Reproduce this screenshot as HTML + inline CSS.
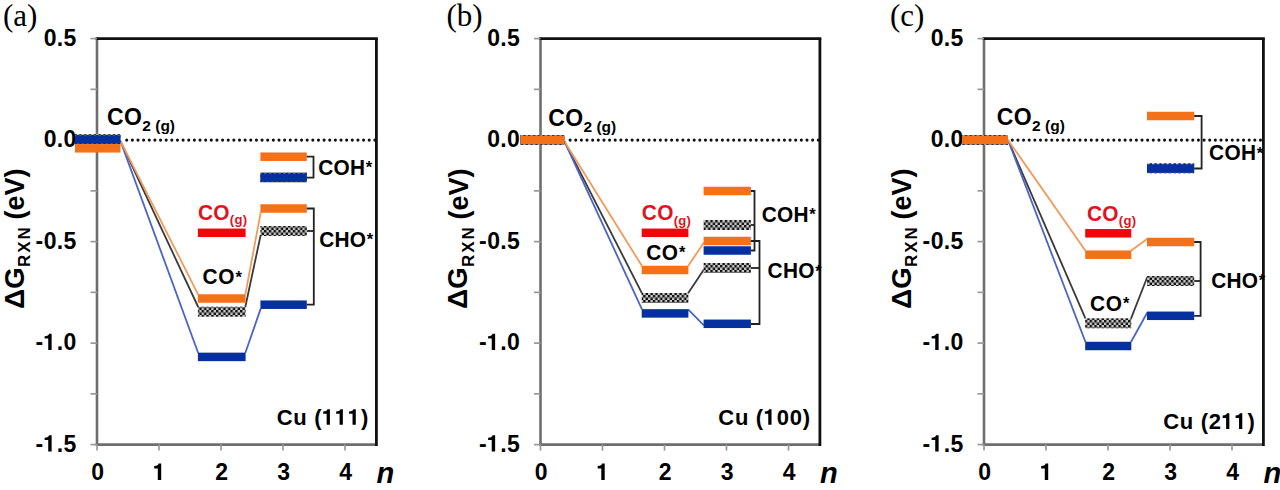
<!DOCTYPE html>
<html><head><meta charset="utf-8"><title>Free energy diagrams</title>
<style>
html,body{margin:0;padding:0;background:#fff;width:1280px;height:490px;overflow:hidden;}
svg{display:block;font-family:"Liberation Sans", sans-serif;}
</style></head><body>
<svg width="1280" height="490" viewBox="0 0 1280 490">
<defs><pattern id="chk" x="0" y="0" width="4.8" height="5" patternUnits="userSpaceOnUse"><rect width="4.8" height="5" fill="#c8c8c8"/><rect x="0" y="0" width="2.4" height="2.5" fill="#111"/><rect x="2.4" y="2.5" width="2.4" height="2.5" fill="#111"/></pattern></defs>
<text x="3.00" y="26.00" font-family="Liberation Serif" font-size="31" font-weight="normal" fill="#000" text-anchor="start" >(a)</text>
<line x1="97.00" y1="37.60" x2="97.00" y2="445.90" stroke="#6e6e6e" stroke-width="2.6"/>
<line x1="95.70" y1="444.60" x2="376.00" y2="444.60" stroke="#6e6e6e" stroke-width="2.6"/>
<line x1="95.70" y1="38.60" x2="377.80" y2="38.60" stroke="#111" stroke-width="2.8"/>
<line x1="376.40" y1="38.60" x2="376.40" y2="445.90" stroke="#111" stroke-width="2.8"/>
<line x1="90.50" y1="38.60" x2="97.00" y2="38.60" stroke="#999" stroke-width="1.7"/>
<line x1="90.50" y1="89.35" x2="97.00" y2="89.35" stroke="#999" stroke-width="1.7"/>
<line x1="90.50" y1="140.10" x2="97.00" y2="140.10" stroke="#999" stroke-width="1.7"/>
<line x1="90.50" y1="190.85" x2="97.00" y2="190.85" stroke="#999" stroke-width="1.7"/>
<line x1="90.50" y1="241.60" x2="97.00" y2="241.60" stroke="#999" stroke-width="1.7"/>
<line x1="90.50" y1="292.35" x2="97.00" y2="292.35" stroke="#999" stroke-width="1.7"/>
<line x1="90.50" y1="343.10" x2="97.00" y2="343.10" stroke="#999" stroke-width="1.7"/>
<line x1="90.50" y1="393.85" x2="97.00" y2="393.85" stroke="#999" stroke-width="1.7"/>
<line x1="90.50" y1="444.60" x2="97.00" y2="444.60" stroke="#999" stroke-width="1.7"/>
<line x1="97.00" y1="444.60" x2="97.00" y2="450.60" stroke="#999" stroke-width="1.7"/>
<line x1="159.00" y1="444.60" x2="159.00" y2="450.60" stroke="#999" stroke-width="1.7"/>
<line x1="221.00" y1="444.60" x2="221.00" y2="450.60" stroke="#999" stroke-width="1.7"/>
<line x1="283.00" y1="444.60" x2="283.00" y2="450.60" stroke="#999" stroke-width="1.7"/>
<line x1="345.00" y1="444.60" x2="345.00" y2="450.60" stroke="#999" stroke-width="1.7"/>
<text x="43.63 56.82 63.61" y="45.60" font-size="23" font-weight="bold" fill="#000" xml:space="preserve">0.5</text>
<text x="43.63 56.82 63.61" y="147.10" font-size="23" font-weight="bold" fill="#000" xml:space="preserve">0.0</text>
<text x="35.57 43.63 56.82 63.61" y="248.60" font-size="23" font-weight="bold" fill="#000" xml:space="preserve">-0.5</text>
<text x="35.57 56.82 63.61" y="350.10" font-size="23" font-weight="bold" fill="#000" xml:space="preserve">-.0</text>
<path d="M348 0L348 710L235 710C221 652 173 612 43 606L43 500L200 500L200 0Z" fill="#000" transform="translate(43.63,350.10) scale(0.02300,-0.02300)"/>
<text x="35.57 56.82 63.61" y="451.60" font-size="23" font-weight="bold" fill="#000" xml:space="preserve">-.5</text>
<path d="M348 0L348 710L235 710C221 652 173 612 43 606L43 500L200 500L200 0Z" fill="#000" transform="translate(43.63,451.60) scale(0.02300,-0.02300)"/>
<text x="91.20" y="479.90" font-size="23" font-weight="bold" fill="#000" xml:space="preserve">0</text>
<path d="M348 0L348 710L235 710C221 652 173 612 43 606L43 500L200 500L200 0Z" fill="#000" transform="translate(153.20,479.90) scale(0.02300,-0.02300)"/>
<text x="215.20" y="479.90" font-size="23" font-weight="bold" fill="#000" xml:space="preserve">2</text>
<text x="277.20" y="479.90" font-size="23" font-weight="bold" fill="#000" xml:space="preserve">3</text>
<text x="339.20" y="479.90" font-size="23" font-weight="bold" fill="#000" xml:space="preserve">4</text>
<text x="376.50" y="483.00" font-family="Liberation Sans" font-size="29" font-weight="bold" fill="#000" text-anchor="start" font-style="italic">n</text>
<text transform="translate(23.80,309) rotate(-90)" font-size="28" font-weight="bold">ΔG</text>
<text transform="translate(30.30,267.1) rotate(-90)" font-size="17" font-weight="bold" letter-spacing="2">RXN</text>
<text transform="translate(24.00,219.5) rotate(-90)" font-size="27" font-weight="bold">(eV)</text>
<line x1="126.70" y1="140.10" x2="376.50" y2="140.10" stroke="#111" stroke-width="3.1" stroke-linecap="round" stroke-dasharray="0.01 5.63"/>
<line x1="120.50" y1="141.20" x2="198.20" y2="307.00" stroke="#3a3a3a" stroke-width="1.8"/>
<line x1="245.30" y1="307.00" x2="260.70" y2="234.95" stroke="#3a3a3a" stroke-width="1.8"/>
<line x1="120.50" y1="141.20" x2="198.20" y2="352.95" stroke="#4a64c8" stroke-width="1.8"/>
<line x1="245.30" y1="352.95" x2="260.70" y2="308.65" stroke="#4a64c8" stroke-width="1.8"/>
<line x1="120.50" y1="141.20" x2="198.20" y2="294.55" stroke="#f39a5a" stroke-width="1.8"/>
<line x1="245.30" y1="294.55" x2="260.70" y2="212.45" stroke="#f39a5a" stroke-width="1.8"/>
<rect x="75.00" y="134.20" width="45.50" height="10.0" fill="url(#chk)"/>
<rect x="75.00" y="135.25" width="45.50" height="8.5" fill="#0630a0"/>
<rect x="75.00" y="144.05" width="45.50" height="8.5" fill="#f37119"/>
<rect x="197.90" y="306.70" width="47.70" height="10.0" fill="url(#chk)"/>
<rect x="197.90" y="352.65" width="47.70" height="8.5" fill="#0630a0"/>
<rect x="197.90" y="294.25" width="47.70" height="8.5" fill="#f37119"/>
<rect x="197.90" y="228.55" width="47.70" height="8.5" fill="#f00808"/>
<rect x="260.40" y="172.40" width="46.40" height="10.0" fill="url(#chk)"/>
<rect x="260.40" y="226.00" width="46.40" height="10.0" fill="url(#chk)"/>
<rect x="260.40" y="173.35" width="46.40" height="8.5" fill="#0630a0"/>
<rect x="260.40" y="300.45" width="46.40" height="8.5" fill="#0630a0"/>
<rect x="260.40" y="152.45" width="46.40" height="8.5" fill="#f37119"/>
<rect x="260.40" y="204.25" width="46.40" height="8.5" fill="#f37119"/>
<path d="M306.80,156.70 H313.50 V177.60 H306.80" fill="none" stroke="#222" stroke-width="1.8"/>
<path d="M306.80,208.50 H313.80 V304.70 H306.80" fill="none" stroke="#222" stroke-width="1.8"/>
<line x1="306.80" y1="231.00" x2="313.80" y2="231.00" stroke="#222" stroke-width="1.8"/>
<text transform="translate(318.20,174.90) scale(0.97,1)" font-family="Liberation Sans" font-size="21.5" font-weight="bold" fill="#000" text-anchor="start" letter-spacing="0.3">COH<tspan font-size="17" dy="-1.5" dx="0.5">*</tspan></text>
<text transform="translate(319.20,246.50) scale(0.97,1)" font-family="Liberation Sans" font-size="21.5" font-weight="bold" fill="#000" text-anchor="start" letter-spacing="0.3">CHO<tspan font-size="17" dy="-1.5" dx="0.5">*</tspan></text>
<text transform="translate(198.00,219.50) scale(0.97,1)" font-family="Liberation Sans" font-size="21.5" font-weight="bold" fill="#e0141e" text-anchor="start" letter-spacing="0.3">CO<tspan font-size="13.5" dy="4.5">(g)</tspan></text>
<text transform="translate(202.60,284.00) scale(0.97,1)" font-family="Liberation Sans" font-size="21.5" font-weight="bold" fill="#000" text-anchor="start" letter-spacing="0.6">CO<tspan font-size="17" dy="-1.5" dx="0.5">*</tspan></text>
<text x="107.00" y="124.90" font-family="Liberation Sans" font-size="23" font-weight="bold" fill="#000" text-anchor="start" letter-spacing="0.4">CO<tspan font-size="15.5" dy="6" letter-spacing="0">2 (g)</tspan></text>
<text x="276.70 293.29 307.43 314.24 361.07" y="424.80" font-size="22" font-weight="bold" fill="#000" xml:space="preserve">Cu ()</text>
<path d="M348 0L348 710L235 710C221 652 173 612 43 606L43 500L200 500L200 0Z" fill="#000" transform="translate(322.26,424.80) scale(0.02200,-0.02200)"/>
<path d="M348 0L348 710L235 710C221 652 173 612 43 606L43 500L200 500L200 0Z" fill="#000" transform="translate(335.20,424.80) scale(0.02200,-0.02200)"/>
<path d="M348 0L348 710L235 710C221 652 173 612 43 606L43 500L200 500L200 0Z" fill="#000" transform="translate(348.14,424.80) scale(0.02200,-0.02200)"/>
<text x="446.50" y="26.00" font-family="Liberation Serif" font-size="31" font-weight="normal" fill="#000" text-anchor="start" >(b)</text>
<line x1="540.50" y1="37.60" x2="540.50" y2="445.90" stroke="#6e6e6e" stroke-width="2.6"/>
<line x1="539.20" y1="444.60" x2="819.50" y2="444.60" stroke="#6e6e6e" stroke-width="2.6"/>
<line x1="539.20" y1="38.60" x2="821.30" y2="38.60" stroke="#111" stroke-width="2.8"/>
<line x1="819.90" y1="38.60" x2="819.90" y2="445.90" stroke="#111" stroke-width="2.8"/>
<line x1="534.00" y1="38.60" x2="540.50" y2="38.60" stroke="#999" stroke-width="1.7"/>
<line x1="534.00" y1="89.35" x2="540.50" y2="89.35" stroke="#999" stroke-width="1.7"/>
<line x1="534.00" y1="140.10" x2="540.50" y2="140.10" stroke="#999" stroke-width="1.7"/>
<line x1="534.00" y1="190.85" x2="540.50" y2="190.85" stroke="#999" stroke-width="1.7"/>
<line x1="534.00" y1="241.60" x2="540.50" y2="241.60" stroke="#999" stroke-width="1.7"/>
<line x1="534.00" y1="292.35" x2="540.50" y2="292.35" stroke="#999" stroke-width="1.7"/>
<line x1="534.00" y1="343.10" x2="540.50" y2="343.10" stroke="#999" stroke-width="1.7"/>
<line x1="534.00" y1="393.85" x2="540.50" y2="393.85" stroke="#999" stroke-width="1.7"/>
<line x1="534.00" y1="444.60" x2="540.50" y2="444.60" stroke="#999" stroke-width="1.7"/>
<line x1="540.50" y1="444.60" x2="540.50" y2="450.60" stroke="#999" stroke-width="1.7"/>
<line x1="602.50" y1="444.60" x2="602.50" y2="450.60" stroke="#999" stroke-width="1.7"/>
<line x1="664.50" y1="444.60" x2="664.50" y2="450.60" stroke="#999" stroke-width="1.7"/>
<line x1="726.50" y1="444.60" x2="726.50" y2="450.60" stroke="#999" stroke-width="1.7"/>
<line x1="788.50" y1="444.60" x2="788.50" y2="450.60" stroke="#999" stroke-width="1.7"/>
<text x="487.13 500.32 507.11" y="45.60" font-size="23" font-weight="bold" fill="#000" xml:space="preserve">0.5</text>
<text x="487.13 500.32 507.11" y="147.10" font-size="23" font-weight="bold" fill="#000" xml:space="preserve">0.0</text>
<text x="479.07 487.13 500.32 507.11" y="248.60" font-size="23" font-weight="bold" fill="#000" xml:space="preserve">-0.5</text>
<text x="479.07 500.32 507.11" y="350.10" font-size="23" font-weight="bold" fill="#000" xml:space="preserve">-.0</text>
<path d="M348 0L348 710L235 710C221 652 173 612 43 606L43 500L200 500L200 0Z" fill="#000" transform="translate(487.13,350.10) scale(0.02300,-0.02300)"/>
<text x="479.07 500.32 507.11" y="451.60" font-size="23" font-weight="bold" fill="#000" xml:space="preserve">-.5</text>
<path d="M348 0L348 710L235 710C221 652 173 612 43 606L43 500L200 500L200 0Z" fill="#000" transform="translate(487.13,451.60) scale(0.02300,-0.02300)"/>
<text x="534.70" y="479.90" font-size="23" font-weight="bold" fill="#000" xml:space="preserve">0</text>
<path d="M348 0L348 710L235 710C221 652 173 612 43 606L43 500L200 500L200 0Z" fill="#000" transform="translate(596.70,479.90) scale(0.02300,-0.02300)"/>
<text x="658.70" y="479.90" font-size="23" font-weight="bold" fill="#000" xml:space="preserve">2</text>
<text x="720.70" y="479.90" font-size="23" font-weight="bold" fill="#000" xml:space="preserve">3</text>
<text x="782.70" y="479.90" font-size="23" font-weight="bold" fill="#000" xml:space="preserve">4</text>
<text x="820.00" y="483.00" font-family="Liberation Sans" font-size="29" font-weight="bold" fill="#000" text-anchor="start" font-style="italic">n</text>
<text transform="translate(467.30,309) rotate(-90)" font-size="28" font-weight="bold">ΔG</text>
<text transform="translate(473.80,267.1) rotate(-90)" font-size="17" font-weight="bold" letter-spacing="2">RXN</text>
<text transform="translate(467.50,219.5) rotate(-90)" font-size="27" font-weight="bold">(eV)</text>
<line x1="570.10" y1="140.10" x2="820.00" y2="140.10" stroke="#111" stroke-width="3.1" stroke-linecap="round" stroke-dasharray="0.01 5.63"/>
<line x1="564.30" y1="141.20" x2="642.00" y2="293.30" stroke="#3a3a3a" stroke-width="1.8"/>
<line x1="688.10" y1="293.30" x2="703.90" y2="269.50" stroke="#3a3a3a" stroke-width="1.8"/>
<line x1="564.30" y1="141.20" x2="642.00" y2="309.45" stroke="#4a64c8" stroke-width="1.8"/>
<line x1="688.10" y1="309.45" x2="703.90" y2="325.30" stroke="#4a64c8" stroke-width="1.8"/>
<line x1="564.30" y1="141.20" x2="642.00" y2="266.05" stroke="#f39a5a" stroke-width="1.8"/>
<line x1="688.10" y1="266.05" x2="703.90" y2="242.50" stroke="#f39a5a" stroke-width="1.8"/>
<rect x="520.20" y="135.00" width="44.10" height="10" fill="url(#chk)"/>
<rect x="520.20" y="135.75" width="44.10" height="8.5" fill="#0630a0"/>
<rect x="520.20" y="135.75" width="44.10" height="8.5" fill="#f37119"/>
<rect x="641.70" y="293.00" width="46.70" height="10.0" fill="url(#chk)"/>
<rect x="641.70" y="309.15" width="46.70" height="8.5" fill="#0630a0"/>
<rect x="641.70" y="265.75" width="46.70" height="8.5" fill="#f37119"/>
<rect x="641.70" y="228.55" width="46.70" height="8.5" fill="#f00808"/>
<rect x="703.60" y="220.00" width="47.30" height="10.0" fill="url(#chk)"/>
<rect x="703.60" y="263.00" width="47.30" height="10.0" fill="url(#chk)"/>
<rect x="703.60" y="246.25" width="47.30" height="8.5" fill="#0630a0"/>
<rect x="703.60" y="319.55" width="47.30" height="8.5" fill="#0630a0"/>
<rect x="703.60" y="186.75" width="47.30" height="8.5" fill="#f37119"/>
<rect x="703.60" y="236.75" width="47.30" height="8.5" fill="#f37119"/>
<path d="M750.90,191.00 H754.50 V250.50 H750.90" fill="none" stroke="#222" stroke-width="1.8"/>
<line x1="750.90" y1="225.00" x2="754.50" y2="225.00" stroke="#222" stroke-width="1.8"/>
<path d="M750.90,241.00 H759.50 V324.00 H750.90" fill="none" stroke="#222" stroke-width="1.8"/>
<line x1="750.90" y1="268.00" x2="759.50" y2="268.00" stroke="#222" stroke-width="1.8"/>
<text transform="translate(761.70,221.50) scale(0.97,1)" font-family="Liberation Sans" font-size="21.5" font-weight="bold" fill="#000" text-anchor="start" letter-spacing="0.3">COH<tspan font-size="17" dy="-1.5" dx="0.5">*</tspan></text>
<text transform="translate(767.60,278.40) scale(0.97,1)" font-family="Liberation Sans" font-size="21.5" font-weight="bold" fill="#000" text-anchor="start" letter-spacing="0.3">CHO<tspan font-size="17" dy="-1.5" dx="0.5">*</tspan></text>
<text transform="translate(641.80,220.30) scale(0.97,1)" font-family="Liberation Sans" font-size="21.5" font-weight="bold" fill="#e0141e" text-anchor="start" letter-spacing="0.3">CO<tspan font-size="13.5" dy="4.5">(g)</tspan></text>
<text transform="translate(646.20,259.50) scale(0.97,1)" font-family="Liberation Sans" font-size="21.5" font-weight="bold" fill="#000" text-anchor="start" letter-spacing="0.6">CO<tspan font-size="17" dy="-1.5" dx="0.5">*</tspan></text>
<text x="548.20" y="125.70" font-family="Liberation Sans" font-size="23" font-weight="bold" fill="#000" text-anchor="start" letter-spacing="0.4">CO<tspan font-size="15.5" dy="6" letter-spacing="0">2 (g)</tspan></text>
<text x="718.30 734.89 749.03 755.84 776.80 789.74 802.67" y="424.80" font-size="22" font-weight="bold" fill="#000" xml:space="preserve">Cu (00)</text>
<path d="M348 0L348 710L235 710C221 652 173 612 43 606L43 500L200 500L200 0Z" fill="#000" transform="translate(763.86,424.80) scale(0.02200,-0.02200)"/>
<text x="890.00" y="26.00" font-family="Liberation Serif" font-size="31" font-weight="normal" fill="#000" text-anchor="start" >(c)</text>
<line x1="984.00" y1="37.60" x2="984.00" y2="445.90" stroke="#6e6e6e" stroke-width="2.6"/>
<line x1="982.70" y1="444.60" x2="1263.00" y2="444.60" stroke="#6e6e6e" stroke-width="2.6"/>
<line x1="982.70" y1="38.60" x2="1264.80" y2="38.60" stroke="#111" stroke-width="2.8"/>
<line x1="1263.40" y1="38.60" x2="1263.40" y2="445.90" stroke="#111" stroke-width="2.8"/>
<line x1="977.50" y1="38.60" x2="984.00" y2="38.60" stroke="#999" stroke-width="1.7"/>
<line x1="977.50" y1="89.35" x2="984.00" y2="89.35" stroke="#999" stroke-width="1.7"/>
<line x1="977.50" y1="140.10" x2="984.00" y2="140.10" stroke="#999" stroke-width="1.7"/>
<line x1="977.50" y1="190.85" x2="984.00" y2="190.85" stroke="#999" stroke-width="1.7"/>
<line x1="977.50" y1="241.60" x2="984.00" y2="241.60" stroke="#999" stroke-width="1.7"/>
<line x1="977.50" y1="292.35" x2="984.00" y2="292.35" stroke="#999" stroke-width="1.7"/>
<line x1="977.50" y1="343.10" x2="984.00" y2="343.10" stroke="#999" stroke-width="1.7"/>
<line x1="977.50" y1="393.85" x2="984.00" y2="393.85" stroke="#999" stroke-width="1.7"/>
<line x1="977.50" y1="444.60" x2="984.00" y2="444.60" stroke="#999" stroke-width="1.7"/>
<line x1="984.00" y1="444.60" x2="984.00" y2="450.60" stroke="#999" stroke-width="1.7"/>
<line x1="1046.00" y1="444.60" x2="1046.00" y2="450.60" stroke="#999" stroke-width="1.7"/>
<line x1="1108.00" y1="444.60" x2="1108.00" y2="450.60" stroke="#999" stroke-width="1.7"/>
<line x1="1170.00" y1="444.60" x2="1170.00" y2="450.60" stroke="#999" stroke-width="1.7"/>
<line x1="1232.00" y1="444.60" x2="1232.00" y2="450.60" stroke="#999" stroke-width="1.7"/>
<text x="930.63 943.82 950.61" y="45.60" font-size="23" font-weight="bold" fill="#000" xml:space="preserve">0.5</text>
<text x="930.63 943.82 950.61" y="147.10" font-size="23" font-weight="bold" fill="#000" xml:space="preserve">0.0</text>
<text x="922.57 930.63 943.82 950.61" y="248.60" font-size="23" font-weight="bold" fill="#000" xml:space="preserve">-0.5</text>
<text x="922.57 943.82 950.61" y="350.10" font-size="23" font-weight="bold" fill="#000" xml:space="preserve">-.0</text>
<path d="M348 0L348 710L235 710C221 652 173 612 43 606L43 500L200 500L200 0Z" fill="#000" transform="translate(930.63,350.10) scale(0.02300,-0.02300)"/>
<text x="922.57 943.82 950.61" y="451.60" font-size="23" font-weight="bold" fill="#000" xml:space="preserve">-.5</text>
<path d="M348 0L348 710L235 710C221 652 173 612 43 606L43 500L200 500L200 0Z" fill="#000" transform="translate(930.63,451.60) scale(0.02300,-0.02300)"/>
<text x="978.20" y="479.90" font-size="23" font-weight="bold" fill="#000" xml:space="preserve">0</text>
<path d="M348 0L348 710L235 710C221 652 173 612 43 606L43 500L200 500L200 0Z" fill="#000" transform="translate(1040.20,479.90) scale(0.02300,-0.02300)"/>
<text x="1102.20" y="479.90" font-size="23" font-weight="bold" fill="#000" xml:space="preserve">2</text>
<text x="1164.20" y="479.90" font-size="23" font-weight="bold" fill="#000" xml:space="preserve">3</text>
<text x="1226.20" y="479.90" font-size="23" font-weight="bold" fill="#000" xml:space="preserve">4</text>
<text x="1263.50" y="483.00" font-family="Liberation Sans" font-size="29" font-weight="bold" fill="#000" text-anchor="start" font-style="italic">n</text>
<text transform="translate(910.80,309) rotate(-90)" font-size="28" font-weight="bold">ΔG</text>
<text transform="translate(917.30,267.1) rotate(-90)" font-size="17" font-weight="bold" letter-spacing="2">RXN</text>
<text transform="translate(911.00,219.5) rotate(-90)" font-size="27" font-weight="bold">(eV)</text>
<line x1="1012.30" y1="140.10" x2="1263.50" y2="140.10" stroke="#111" stroke-width="3.1" stroke-linecap="round" stroke-dasharray="0.01 5.63"/>
<line x1="1008.00" y1="140.00" x2="1085.50" y2="318.60" stroke="#3a3a3a" stroke-width="1.8"/>
<line x1="1131.00" y1="318.60" x2="1147.30" y2="277.00" stroke="#3a3a3a" stroke-width="1.8"/>
<line x1="1008.00" y1="140.00" x2="1085.50" y2="342.05" stroke="#4a64c8" stroke-width="1.8"/>
<line x1="1131.00" y1="342.05" x2="1147.30" y2="312.55" stroke="#4a64c8" stroke-width="1.8"/>
<line x1="1008.00" y1="140.00" x2="1085.50" y2="250.75" stroke="#f39a5a" stroke-width="1.8"/>
<line x1="1131.00" y1="250.75" x2="1147.30" y2="238.75" stroke="#f39a5a" stroke-width="1.8"/>
<rect x="962.00" y="135.00" width="46.00" height="10" fill="url(#chk)"/>
<rect x="962.00" y="135.75" width="46.00" height="8.5" fill="#0630a0"/>
<rect x="962.00" y="135.75" width="46.00" height="8.5" fill="#f37119"/>
<rect x="1085.20" y="318.30" width="46.10" height="10.0" fill="url(#chk)"/>
<rect x="1085.20" y="341.75" width="46.10" height="8.5" fill="#0630a0"/>
<rect x="1085.20" y="250.45" width="46.10" height="8.5" fill="#f37119"/>
<rect x="1085.20" y="229.05" width="46.10" height="8.5" fill="#f00808"/>
<rect x="1147.00" y="163.30" width="47.20" height="10.0" fill="url(#chk)"/>
<rect x="1147.00" y="276.00" width="47.20" height="10.0" fill="url(#chk)"/>
<rect x="1147.00" y="164.25" width="47.20" height="8.5" fill="#0630a0"/>
<rect x="1147.00" y="311.55" width="47.20" height="8.5" fill="#0630a0"/>
<rect x="1147.00" y="111.75" width="47.20" height="8.5" fill="#f37119"/>
<rect x="1147.00" y="237.75" width="47.20" height="8.5" fill="#f37119"/>
<path d="M1194.20,116.00 H1201.60 V168.50 H1194.20" fill="none" stroke="#222" stroke-width="1.8"/>
<path d="M1194.20,242.00 H1200.60 V315.80 H1194.20" fill="none" stroke="#222" stroke-width="1.8"/>
<line x1="1194.20" y1="281.00" x2="1200.60" y2="281.00" stroke="#222" stroke-width="1.8"/>
<text transform="translate(1209.10,160.30) scale(0.97,1)" font-family="Liberation Sans" font-size="21.5" font-weight="bold" fill="#000" text-anchor="start" letter-spacing="0.3">COH<tspan font-size="17" dy="-1.5" dx="0.5">*</tspan></text>
<text transform="translate(1211.20,287.50) scale(0.97,1)" font-family="Liberation Sans" font-size="21.5" font-weight="bold" fill="#000" text-anchor="start" letter-spacing="0.3">CHO<tspan font-size="17" dy="-1.5" dx="0.5">*</tspan></text>
<text transform="translate(1087.00,220.80) scale(0.97,1)" font-family="Liberation Sans" font-size="21.5" font-weight="bold" fill="#e0141e" text-anchor="start" letter-spacing="0.3">CO<tspan font-size="13.5" dy="4.5">(g)</tspan></text>
<text transform="translate(1090.00,310.50) scale(0.97,1)" font-family="Liberation Sans" font-size="21.5" font-weight="bold" fill="#000" text-anchor="start" letter-spacing="0.6">CO<tspan font-size="17" dy="-1.5" dx="0.5">*</tspan></text>
<text x="996.80" y="124.60" font-family="Liberation Sans" font-size="23" font-weight="bold" fill="#000" text-anchor="start" letter-spacing="0.4">CO<tspan font-size="15.5" dy="6" letter-spacing="0">2 (g)</tspan></text>
<text x="1163.20 1179.79 1193.93 1200.74 1208.76 1247.57" y="428.90" font-size="22" font-weight="bold" fill="#000" xml:space="preserve">Cu (2)</text>
<path d="M348 0L348 710L235 710C221 652 173 612 43 606L43 500L200 500L200 0Z" fill="#000" transform="translate(1221.70,428.90) scale(0.02200,-0.02200)"/>
<path d="M348 0L348 710L235 710C221 652 173 612 43 606L43 500L200 500L200 0Z" fill="#000" transform="translate(1234.64,428.90) scale(0.02200,-0.02200)"/>
</svg>
</body></html>
